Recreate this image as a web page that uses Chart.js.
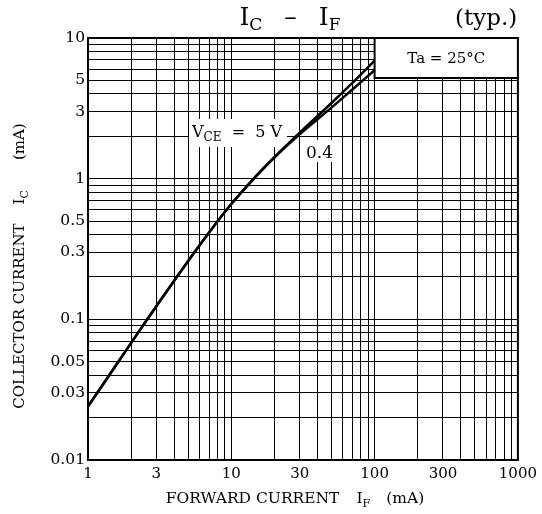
<!DOCTYPE html>
<html><head><meta charset="utf-8">
<script src="https://cdn.jsdelivr.net/npm/chart.js@4"></script>
<style>html,body{margin:0;padding:0;background:#fff}#wrap{width:542px;height:514px}</style>
</head><body><div id="wrap"><canvas id="c" width="542" height="514"></canvas></div>
<script>
// ---- data ----
const forwardCurrent = [1, 2, 3, 5, 7, 10, 15, 20, 30, 50, 70, 100];
const icVce5  = [0.024, 0.068, 0.124, 0.26, 0.415, 0.66, 1.05, 1.42, 2.12, 3.45, 4.8, 6.9];
const icVce04 = [0.024, 0.068, 0.124, 0.26, 0.415, 0.66, 1.05, 1.42, 2.07, 3.2, 4.3, 5.9];
const xGridValues = [1,2,3,4,5,6,7,8,9,10,20,30,40,50,60,70,80,90,100,200,300,400,500,600,700,800,900,1000];
const yGridValues = [0.01,0.02,0.03,0.04,0.05,0.06,0.07,0.08,0.09,0.1,0.2,0.3,0.4,0.5,0.6,0.7,0.8,0.9,1,2,3,4,5,6,7,8,9,10];
const xTickLabels = [1, 3, 10, 30, 100, 300, 1000];
const yTickLabels = [0.01, 0.03, 0.05, 0.1, 0.3, 0.5, 1, 3, 5, 10];

const SERIF = '"DejaVu Serif", "Liberation Serif", serif';

// parts: [text, fontSize, dy, extraAdvanceAfter]
function drawRich(ctx, parts, x, y, align) {
  let widths = parts.map(p => { ctx.font = p[1] + 'px ' + SERIF; return ctx.measureText(p[0]).width + (p[3] || 0); });
  let total = widths.reduce((a, b) => a + b, 0);
  let cx = align === 'center' ? x - total / 2 : (align === 'right' ? x - total : x);
  ctx.textAlign = 'left';
  ctx.textBaseline = 'alphabetic';
  parts.forEach((p, i) => {
    ctx.font = p[1] + 'px ' + SERIF;
    ctx.fillText(p[0], cx, y + (p[2] || 0));
    cx += widths[i];
  });
  return total;
}

const annot = {
  id: 'annot',
  beforeDatasetsDraw(chart) {
    const ctx = chart.ctx, ca = chart.chartArea;
    const xs = chart.scales.x;
    ctx.save();
    // Ta box
    const bx = xs.getPixelForValue(100);
    ctx.fillStyle = '#fff';
    ctx.fillRect(bx, ca.top, ca.right - bx, 40);
    ctx.strokeStyle = '#000'; ctx.lineWidth = 2;
    ctx.beginPath();
    ctx.moveTo(bx, ca.top); ctx.lineTo(bx, ca.top + 40); ctx.lineTo(ca.right, ca.top + 40);
    ctx.stroke();
    ctx.fillStyle = '#000';
    drawRich(ctx, [['Ta = 25°C', 15, 0]], (bx + ca.right) / 2, ca.top + 25, 'center');
    // label backgrounds
    ctx.fillStyle = '#fff';
    ctx.fillRect(189, 119, 98, 28);
    ctx.fillRect(304, 140, 31, 22);
    ctx.fillStyle = '#000';
    drawRich(ctx, [['V', 16, 0], ['CE', 12, 4], ['  =  5 V', 16, 0]], 192, 137, 'left');
    drawRich(ctx, [['0.4', 17, 0]], 306, 158, 'left');
    ctx.restore();
  },
  afterDraw(chart) {
    const ctx = chart.ctx, ca = chart.chartArea;
    ctx.save();
    ctx.strokeStyle = '#000'; ctx.lineWidth = 2;
    ctx.strokeRect(ca.left, ca.top, ca.right - ca.left, ca.bottom - ca.top);
    ctx.fillStyle = '#000';
    drawRich(ctx, [['I', 25, 0], ['C', 17, 5, 22], ['–', 25, 0, 22], ['I', 25, 0], ['F', 17, 5]], 290, 25, 'center');
    drawRich(ctx, [['(typ.)', 23, 0]], 455, 25, 'left');
    drawRich(ctx, [['FORWARD CURRENT', 15.5, 0, 17], ['I', 15.5, 0], ['F', 11, 4, 16], ['(mA)', 15.5, 0]], 295, 503, 'center');
    ctx.translate(24, 266);
    ctx.rotate(-Math.PI / 2);
    drawRich(ctx, [['COLLECTOR CURRENT', 15, 0, 19], ['I', 15, 0], ['C', 11, 4, 30], ['(mA)', 15, 0]], 0, 0, 'center');
    ctx.restore();
  }
};

const gridStyle = { color: '#000', drawTicks: false, lineWidth: 1 };
const borderStyle = { color: '#000', width: 2 };

new Chart(document.getElementById('c'), {
  type: 'line',
  data: {
    datasets: [
      { label: 'VCE = 5 V', data: forwardCurrent.map((x, i) => ({ x, y: icVce5[i] })),
        borderColor: '#000', borderWidth: 2.5, pointRadius: 0, tension: 0.4, fill: false },
      { label: 'VCE = 0.4 V', data: forwardCurrent.map((x, i) => ({ x, y: icVce04[i] })),
        borderColor: '#000', borderWidth: 2.5, pointRadius: 0, tension: 0.4, fill: false }
    ]
  },
  options: {
    responsive: false,
    animation: false,
    devicePixelRatio: 1,
    layout: { padding: { top: 38, right: 22, left: 0, bottom: 0 } },
    plugins: { legend: { display: false }, tooltip: { enabled: false } },
    scales: {
      x: {
        type: 'logarithmic', min: 1, max: 1000,
        afterBuildTicks: s => { s.ticks = xGridValues.map(v => ({ value: v })); },
        afterFit: s => { s.height = 54; },
        ticks: { autoSkip: false, maxRotation: 0, padding: 5, color: '#000',
          font: { family: SERIF, size: 15 },
          callback: v => xTickLabels.includes(v) ? String(v) : '' },
        grid: gridStyle, border: borderStyle
      },
      y: {
        type: 'logarithmic', min: 0.01, max: 10,
        afterBuildTicks: s => { s.ticks = yGridValues.map(v => ({ value: v })); },
        afterFit: s => { s.width = 88; },
        ticks: { autoSkip: false, padding: 3, color: '#000',
          font: { family: SERIF, size: 15.5 },
          callback: v => yTickLabels.includes(v) ? String(v) : '' },
        grid: gridStyle, border: borderStyle
      }
    }
  },
  plugins: [annot]
});
</script></body></html>
